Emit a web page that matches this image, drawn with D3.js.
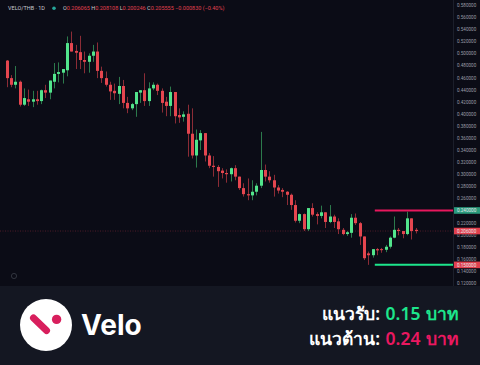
<!DOCTYPE html>
<html>
<head>
<meta charset="utf-8">
<script src="https://cdn.jsdelivr.net/npm/d3@7"></script>
<style>
  html, body { margin: 0; padding: 0; background: #0b0c16; }
  svg { display: block; }
</style>
</head>
<body>
<svg width="480" height="365"></svg>
<script>
// daily candles VELO/THB
const opens = [.488,.459,.448,.453,.415,.424,.420,.424,.421,.439,.435,.453,.466,.468,.472,.517,.504,.502,.489,.486,
  .496,.503,.471,.459,.448,.438,.433,.446,.418,.409,.416,.435,.439,.421,.442,.448,.438,.420,.413,.436,
  .398,.395,.400,.367,.331,.356,.368,.331,.314,.312,.306,.302,.300,.310,.296,.277,.267,.265,.271,.281,
  .307,.296,.290,.278,.274,.271,.266,.249,.223,.234,.209,.244,.234,.231,.237,.221,.230,.222,.208,.201,
  .203,.228,.219,.197,.169,.166,.176,.176,.175,.180,.195,.208,.206,.201,.227,.208];
const highs = [.489,.464,.479,.455,.442,.440,.438,.438,.440,.448,.455,.484,.485,.474,.528,.536,.514,.529,.503,.500,
  .514,.518,.478,.470,.453,.450,.461,.456,.428,.418,.436,.439,.467,.452,.452,.450,.442,.428,.445,.436,
  .409,.404,.415,.409,.374,.373,.368,.335,.330,.315,.310,.308,.311,.315,.296,.285,.293,.290,.285,.370,
  .316,.305,.299,.282,.277,.272,.268,.257,.235,.235,.244,.252,.237,.248,.237,.249,.233,.227,.211,.206,
  .234,.235,.221,.197,.172,.176,.178,.178,.183,.197,.230,.211,.206,.238,.227,.211];
const lows = [.444,.444,.442,.412,.413,.413,.411,.415,.416,.426,.424,.442,.452,.450,.462,.503,.474,.474,.467,.468,
  .486,.459,.451,.445,.423,.423,.416,.409,.401,.406,.395,.418,.413,.413,.439,.431,.402,.396,.396,.384,
  .385,.387,.329,.326,.311,.340,.321,.310,.296,.279,.293,.286,.288,.290,.274,.263,.257,.257,.265,.277,
  .288,.286,.263,.268,.262,.249,.241,.220,.219,.206,.206,.230,.217,.227,.211,.219,.211,.201,.199,.198,
  .195,.216,.183,.158,.150,.162,.166,.170,.171,.177,.194,.199,.194,.199,.192,.202];
const closes = [.459,.448,.453,.415,.426,.420,.424,.421,.439,.435,.455,.466,.469,.474,.517,.503,.501,.489,.486,.496,
  .503,.471,.459,.448,.437,.434,.446,.418,.409,.416,.436,.439,.421,.442,.448,.438,.418,.413,.436,.396,
  .394,.399,.367,.331,.357,.368,.331,.314,.312,.305,.302,.300,.310,.296,.277,.267,.265,.271,.281,.307,
  .296,.290,.278,.273,.271,.266,.249,.223,.234,.209,.244,.233,.231,.237,.221,.230,.221,.209,.201,.204,
  .228,.219,.197,.161,.166,.176,.174,.175,.180,.195,.208,.206,.201,.227,.206,.206];

const priceTicks = d3.range(0.12, 0.581, 0.02);
const levelStart = 85.5; // bar index where the drawn levels begin
const resistance = 0.24;
const support = 0.15;
const header = [["O", "0.206065"], ["H", "0.208108"], ["L", "0.200246"], ["C", "0.205555"], ["", "\u22120.000830 (\u22120.40%)"]];

const green = "#52e58c", red = "#e5464f";
const greenWick = "#2c7a4c", redWick = "#8c2c36";

const svg = d3.select("svg");
const W = 480, H = 365;
const axisX = 453;

svg.append("rect").attr("width", W).attr("height", H).attr("fill", "#0b0c16");

const y = d3.scaleLinear().domain([0.12, 0.58]).range([283, 5]);
const x = d3.scaleLinear().domain([0, opens.length - 1]).range([6.7, 415.7]);

const candles = opens.map((o, i) => ({i, o, h: highs[i], l: lows[i], c: closes[i]}));

// price axis
svg.append("line")
    .attr("x1", axisX + 0.5).attr("x2", axisX + 0.5)
    .attr("y1", 0).attr("y2", 286)
    .attr("stroke", "#1c1f2b");
const ax = svg.append("g")
    .attr("transform", `translate(${axisX}, 0)`)
    .call(d3.axisRight(y).tickValues(priceTicks).tickFormat(d3.format(".6f")).tickSize(0).tickPadding(4));
ax.select(".domain").remove();
ax.selectAll("text")
    .attr("fill", "#9a9ca6")
    .style("font-family", "Roboto, sans-serif")
    .style("font-size", "4.6px");

// last price dotted line
const last = candles[candles.length - 1];
svg.append("line")
    .attr("x1", 0).attr("x2", axisX)
    .attr("y1", y(last.c)).attr("y2", y(last.c))
    .attr("stroke", "#6a2530")
    .attr("stroke-width", 0.7)
    .attr("stroke-dasharray", "1,1.5");

// candles
const g = svg.append("g");
g.selectAll(".wick")
    .data(candles)
    .enter()
    .append("line")
    .attr("x1", d => Math.round(x(d.i)) + 0.5)
    .attr("x2", d => Math.round(x(d.i)) + 0.5)
    .attr("y1", d => y(d.h))
    .attr("y2", d => y(d.l))
    .attr("stroke", d => d.c >= d.o ? greenWick : redWick)
    .attr("stroke-width", 1);
g.selectAll(".body")
    .data(candles)
    .enter()
    .append("rect")
    .attr("x", d => Math.round(x(d.i)) - 1)
    .attr("width", 3)
    .attr("y", d => y(Math.max(d.o, d.c)))
    .attr("height", d => Math.max(1, Math.abs(y(d.o) - y(d.c))))
    .attr("fill", d => d.c >= d.o ? green : red);

// support / resistance
const levels = [
    {v: resistance, line: "#e8175d", box: "#2a9a7c"},
    {v: support, line: "#1de68c", box: "#e0404e"}
];
svg.selectAll(".lvl")
    .data(levels)
    .enter()
    .append("line")
    .attr("x1", x(levelStart)).attr("x2", axisX)
    .attr("y1", d => y(d.v)).attr("y2", d => y(d.v))
    .attr("stroke", d => d.line)
    .attr("stroke-width", 2);

// axis price boxes
const boxes = levels.map(d => ({v: d.v, fill: d.box})).concat([{v: last.c, fill: "#e0404e"}]);
boxes.forEach(b => {
    svg.append("rect")
        .attr("x", axisX + 1).attr("y", y(b.v) - 3.3)
        .attr("width", W - axisX - 1).attr("height", 6.6)
        .attr("fill", b.fill);
    svg.append("text")
        .attr("x", axisX + 4).attr("y", y(b.v) + 1.7)
        .attr("fill", "#e8e8ec")
        .style("font-family", "Roboto, sans-serif")
        .style("font-size", "4.6px")
        .text(d3.format(".6f")(b.v));
});

// header
const hd = svg.append("text")
    .attr("x", 8).attr("y", 10)
    .style("font-family", "Roboto, sans-serif")
    .style("font-size", "5.5px");
hd.append("tspan").attr("fill", "#c9cbd2").text("VELO/THB \u00b7 1D");
svg.append("circle").attr("cx", 54).attr("cy", 8.2).attr("r", 1.8).attr("fill", "#26a69a");
const ohlc = svg.append("text")
    .attr("x", 63).attr("y", 10)
    .style("font-family", "Roboto, sans-serif")
    .style("font-size", "5.5px");
header.forEach(([k, v]) => {
    if (k) ohlc.append("tspan").attr("fill", "#c9cbd2").text(k);
    ohlc.append("tspan").attr("fill", "#e0404e").text(v + " ");
});

// tradingview mark
svg.append("circle").attr("cx", 14).attr("cy", 276).attr("r", 2.6)
    .attr("fill", "none").attr("stroke", "#3a3d48").attr("stroke-width", 0.8);

// bottom panel
svg.append("rect").attr("x", 0).attr("y", 286).attr("width", W).attr("height", H - 286).attr("fill", "#141722");
svg.append("circle").attr("cx", 46).attr("cy", 325).attr("r", 26).attr("fill", "#ffffff");
svg.append("line")
    .attr("x1", 33.5).attr("y1", 318).attr("x2", 46.5).attr("y2", 330.5)
    .attr("stroke", "#d81f5d").attr("stroke-width", 7).attr("stroke-linecap", "round");
svg.append("circle").attr("cx", 56.6).attr("cy", 319.4).attr("r", 4.7).attr("fill", "#d81f5d");
svg.append("text")
    .attr("x", 81).attr("y", 334.5)
    .attr("fill", "#ffffff")
    .style("font-family", "Inter, sans-serif")
    .style("font-weight", 700)
    .style("font-size", "28px")
    .text("Velo");

const rows = [
    {label: "แนวรับ: ", value: "0.15 บาท", color: "#1de68c", y: 319.5},
    {label: "แนวต้าน: ", value: "0.24 บาท", color: "#ea1860", y: 345}
];
rows.forEach(r => {
    const t = svg.append("text")
        .attr("x", 459).attr("y", r.y)
        .attr("text-anchor", "end")
        .style("font-family", "'Noto Sans', sans-serif")
        .style("font-weight", 600)
        .style("font-size", "17.5px")
        .style("word-spacing", "1px");
    t.append("tspan").attr("fill", "#ffffff").text(r.label);
    t.append("tspan").attr("fill", r.color).text(r.value);
});
</script>
</body>
</html>
